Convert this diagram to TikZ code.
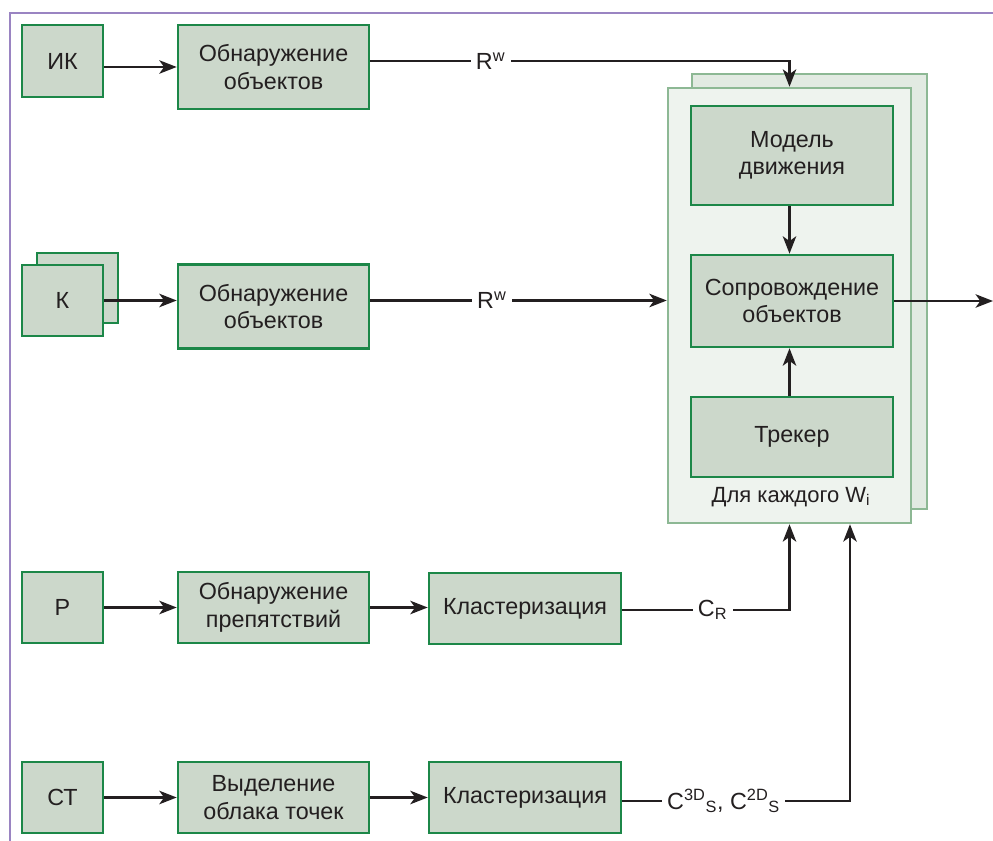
\documentclass[tikz,border=0pt]{standalone}
\usepackage{fontspec}
\setmainfont{Liberation Sans}
\usetikzlibrary{arrows.meta,calc}
\definecolor{boxfill}{HTML}{CCD8CB}
\definecolor{boxline}{HTML}{1C8748}
\definecolor{wfrontfill}{HTML}{EEF3EE}
\definecolor{wbackfill}{HTML}{E2EAE2}
\definecolor{wline}{HTML}{8DB894}
\definecolor{frameline}{HTML}{9A84C2}
\definecolor{txt}{HTML}{231F20}
\begin{document}
\begin{tikzpicture}[x=0.75pt,y=-0.75pt,
  box/.style={draw=boxline, fill=boxfill, line width=1.9pt, text=txt, align=center, inner sep=0pt,
    font=\fontsize{17.5}{20.5}\selectfont},
  wbox/.style={draw=wline, line width=1.8pt, inner sep=0pt},
  conn/.style={draw=txt, line width=2.1pt},
  arr/.style={conn, -{Stealth[length=13pt,width=10pt,inset=3.5pt]}},
  lbl/.style={fill=white, text=txt, inner sep=4pt, font=\fontsize{17.5}{20.5}\selectfont},
  small/.style={text=txt, inner sep=0pt, font=\fontsize{16.5}{19}\selectfont}
]
\useasboundingbox (0,0) rectangle (993,841);
% frame
\draw[draw=frameline, line width=2.1pt] (993,13) -- (10,13) -- (10,841);

% container
\node[wbox, fill=wbackfill, minimum width=176.25pt, minimum height=326.25pt] (wback) at (809.5,291.5) {};
\node[wbox, fill=wfrontfill, minimum width=182.25pt, minimum height=326.25pt] (wfront) at (789.5,305.5) {};
\node[box, minimum width=151.5pt, minimum height=74.25pt] (model) at (792,155.5) {Модель\\движения};
\node[box, minimum width=151.5pt, minimum height=69pt] (track) at (792,301) {Сопровождение\\объектов};
\node[box, minimum width=151.5pt, minimum height=60pt] (tracker) at (792,437) {Трекер};
\node[small] (wlabel) at (791,497) {Для каждого W\textsubscript{i}};

% row 1
\node[box, minimum width=60.75pt, minimum height=54pt] (ik) at (62.5,61) {ИК};
\node[box, minimum width=143.25pt, minimum height=63pt] (det1) at (273.5,67) {Обнаружение\\объектов};
% row 2
\node[box, minimum width=60.75pt, minimum height=52.5pt] (kback) at (77.5,288) {};
\node[box, minimum width=60.75pt, minimum height=53.25pt] (k) at (62.5,300.5) {К};
\node[box, minimum width=143.25pt, minimum height=63pt] (det2) at (273.5,306.5) {Обнаружение\\объектов};
% row 3
\node[box, minimum width=60.75pt, minimum height=53.25pt] (r) at (62.5,607.5) {Р};
\node[box, minimum width=143.25pt, minimum height=53.25pt] (det3) at (273.5,607.5) {Обнаружение\\препятствий};
\node[box, minimum width=144pt, minimum height=53.25pt] (clus1) at (525,608.5) {Кластеризация};
% row 4
\node[box, minimum width=60.75pt, minimum height=53.25pt] (ct) at (62.5,797.5) {СТ};
\node[box, minimum width=143.25pt, minimum height=53.25pt] (det4) at (273.5,797.5) {Выделение\\облака точек};
\node[box, minimum width=144pt, minimum height=53.25pt] (clus2) at (525,797.5) {Кластеризация};

% connector start points and bends
\coordinate (d1o) at ($(det1.east)+(0,-6)$);
\coordinate (d2o) at ($(det2.east)+(0,-6)$);
\coordinate (c1o) at ($(clus1.east)+(0,1.5)$);
\coordinate (c2o) at ($(clus2.east)+(0,3.5)$);
\coordinate (b1) at (d1o -| wfront.center);
\coordinate (b3) at (c1o -| wfront.center);
\coordinate (b4) at (c2o -| 850,0);
\coordinate (out) at (993,299);

% connectors
\draw[arr] (ik.east |- det1.west) -- (det1.west);
\draw[arr] (d1o) -- node[lbl, pos=0.287] (rw1) {R\textsuperscript{w}} (b1) -- (b1 |- wfront.north);
\draw[arr] (k.east) -- (k.east -| det2.west);
\draw[arr] (d2o) -- node[lbl, pos=0.41] (rw2) {R\textsuperscript{w}} (d2o -| wfront.west);
\draw[arr] (model.south -| wfront.center) -- (track.north -| wfront.center);
\draw[arr] (tracker.north -| wfront.center) -- (track.south -| wfront.center);
\draw[arr] (track.east) -- (track.east -| out);
\draw[arr] (r.east) -- (r.east -| det3.west);
\draw[arr] (det3.east) -- (det3.east -| clus1.west);
\draw[arr] (c1o) -- node[lbl, pos=0.54] (cr) {C\textsubscript{R}} (b3) -- (b3 |- wfront.south);
\draw[arr] (ct.east) -- (ct.east -| det4.west);
\draw[arr] (det4.east) -- (det4.east -| clus2.west);
\draw[arr] (c2o) -- node[lbl, pos=0.445] (cs) {C\textsuperscript{3D}\textsubscript{S}, C\textsuperscript{2D}\textsubscript{S}} (b4) -- (b4 |- wfront.south);
\end{tikzpicture}
\end{document}
